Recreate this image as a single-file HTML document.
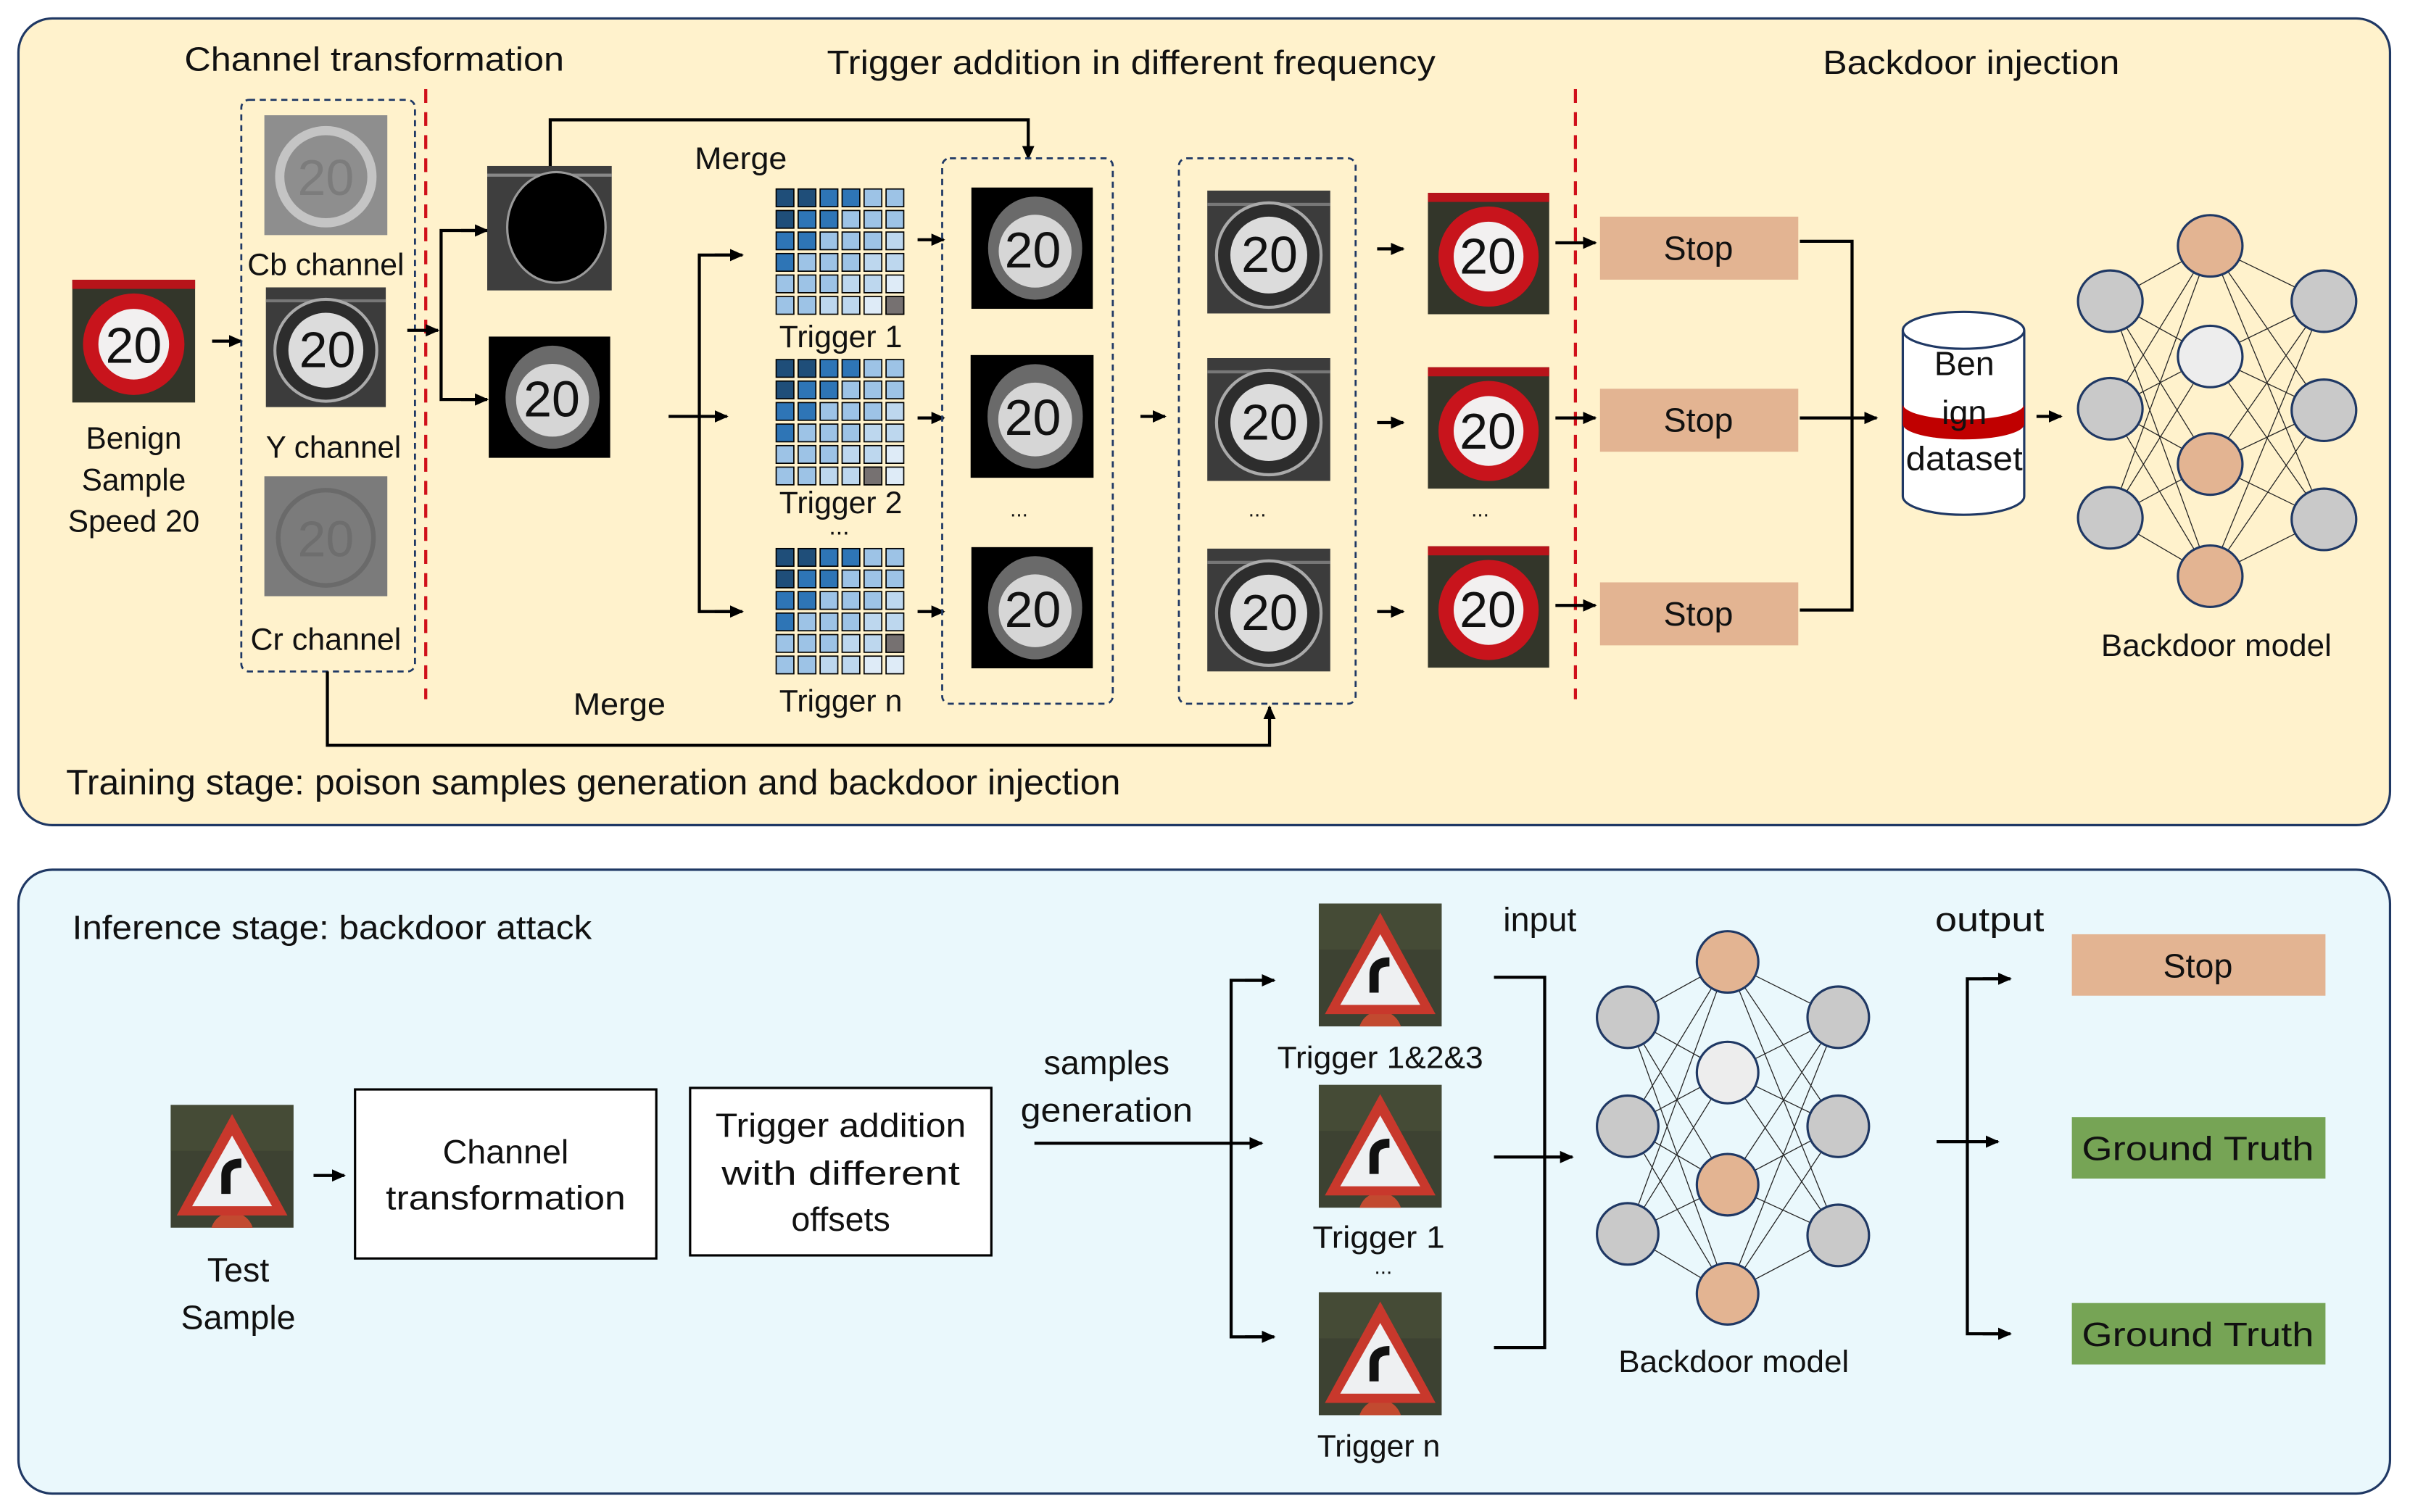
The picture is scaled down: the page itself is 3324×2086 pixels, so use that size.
<!DOCTYPE html>
<html><head><meta charset="utf-8"><style>
html,body{margin:0;padding:0;background:#fff;}
svg{display:block;}
text{font-family:"Liberation Sans",sans-serif;fill:#111;}
.n{font-size:33px;text-anchor:middle;}
</style></head><body>
<svg width="3324" height="2086" viewBox="0 0 1568 984" preserveAspectRatio="none" xmlns="http://www.w3.org/2000/svg">
<defs>
<marker id="ah" markerUnits="userSpaceOnUse" markerWidth="9" markerHeight="9" refX="8" refY="4.5" orient="auto"><path d="M0,0.5 L9,4.5 L0,8.5 Z" fill="#000"/></marker>
<symbol id="red" viewBox="0 0 80 80"><rect width="80" height="80" fill="#33362a"/><rect width="80" height="6" fill="#b8141a"/><circle cx="40" cy="42" r="33" fill="#c8141c"/><circle cx="40" cy="42" r="23" fill="#f2f0f0"/></symbol>
<symbol id="gray" viewBox="0 0 80 80"><rect width="80" height="80" fill="#3c3c3c"/><rect y="8" width="80" height="2" fill="#777"/><circle cx="40" cy="42" r="34" fill="#2d2d2d" stroke="#aaa" stroke-width="2"/><circle cx="40" cy="42" r="25" fill="#dcdcdc"/></symbol>
<symbol id="blk" viewBox="0 0 80 80"><rect width="80" height="80" fill="#000"/><ellipse cx="42" cy="40" rx="31" ry="34" fill="#6a6a6a"/><circle cx="42" cy="42" r="24" fill="#d6d6d6"/></symbol>
<symbol id="tri" viewBox="0 0 80 80"><rect width="80" height="80" fill="#3d4232"/><rect width="80" height="30" fill="#4b5138" opacity=".6"/><circle cx="40" cy="84" r="14" fill="#c24a30"/><polygon points="40,6 76,72 4,72" fill="#c8382c"/><polygon points="40,20 66,66 14,66" fill="#eef0f2"/><path d="M36,58 L36,46 Q36,38 46,38" stroke="#111" stroke-width="6" fill="none"/></symbol>
<symbol id="grid" viewBox="0 0 86 84">
<g stroke="#000" stroke-width="0.8">
<rect x="1" y="1" width="11.5" height="11.5" fill="#1F4E79"/><rect x="15.3" y="1" width="11.5" height="11.5" fill="#1F4E79"/><rect x="29.6" y="1" width="11.5" height="11.5" fill="#2E75B6"/><rect x="43.9" y="1" width="11.5" height="11.5" fill="#2E75B6"/><rect x="58.2" y="1" width="11.5" height="11.5" fill="#9DC3E6"/><rect x="72.5" y="1" width="11.5" height="11.5" fill="#9DC3E6"/>
<rect x="1" y="15" width="11.5" height="11.5" fill="#1F4E79"/><rect x="15.3" y="15" width="11.5" height="11.5" fill="#2E75B6"/><rect x="29.6" y="15" width="11.5" height="11.5" fill="#2E75B6"/><rect x="43.9" y="15" width="11.5" height="11.5" fill="#9DC3E6"/><rect x="58.2" y="15" width="11.5" height="11.5" fill="#9DC3E6"/><rect x="72.5" y="15" width="11.5" height="11.5" fill="#9DC3E6"/>
<rect x="1" y="29" width="11.5" height="11.5" fill="#2E75B6"/><rect x="15.3" y="29" width="11.5" height="11.5" fill="#2E75B6"/><rect x="29.6" y="29" width="11.5" height="11.5" fill="#9DC3E6"/><rect x="43.9" y="29" width="11.5" height="11.5" fill="#9DC3E6"/><rect x="58.2" y="29" width="11.5" height="11.5" fill="#9DC3E6"/><rect x="72.5" y="29" width="11.5" height="11.5" fill="#BDD7EE"/>
<rect x="1" y="43" width="11.5" height="11.5" fill="#2E75B6"/><rect x="15.3" y="43" width="11.5" height="11.5" fill="#9DC3E6"/><rect x="29.6" y="43" width="11.5" height="11.5" fill="#9DC3E6"/><rect x="43.9" y="43" width="11.5" height="11.5" fill="#9DC3E6"/><rect x="58.2" y="43" width="11.5" height="11.5" fill="#BDD7EE"/><rect x="72.5" y="43" width="11.5" height="11.5" fill="#BDD7EE"/>
<rect x="1" y="57" width="11.5" height="11.5" fill="#9DC3E6"/><rect x="15.3" y="57" width="11.5" height="11.5" fill="#9DC3E6"/><rect x="29.6" y="57" width="11.5" height="11.5" fill="#9DC3E6"/><rect x="43.9" y="57" width="11.5" height="11.5" fill="#BDD7EE"/><rect x="58.2" y="57" width="11.5" height="11.5" fill="#BDD7EE"/><rect x="72.5" y="57" width="11.5" height="11.5" fill="#DEEBF7"/>
<rect x="1" y="71" width="11.5" height="11.5" fill="#9DC3E6"/><rect x="15.3" y="71" width="11.5" height="11.5" fill="#9DC3E6"/><rect x="29.6" y="71" width="11.5" height="11.5" fill="#BDD7EE"/><rect x="43.9" y="71" width="11.5" height="11.5" fill="#BDD7EE"/><rect x="58.2" y="71" width="11.5" height="11.5" fill="#DEEBF7"/><rect x="72.5" y="71" width="11.5" height="11.5" fill="#DEEBF7"/>
</g></symbol>
</defs>

<rect x="12" y="12" width="1543" height="525" rx="22" fill="#FFF2CC" stroke="#1F3864" stroke-width="1.5"/>
<rect x="12" y="566" width="1543" height="406" rx="22" fill="#EAF8FC" stroke="#1F3864" stroke-width="1.5"/>

<text x="120" y="46" font-size="22" textLength="247" lengthAdjust="spacingAndGlyphs">Channel transformation</text>
<text x="538" y="48" font-size="22" textLength="396" lengthAdjust="spacingAndGlyphs">Trigger addition in different frequency</text>
<text x="1186" y="48" font-size="22" textLength="193" lengthAdjust="spacingAndGlyphs">Backdoor injection</text>

<use href="#red" x="47" y="182" width="80" height="80"/>
<text x="87" y="236" class="n">20</text>
<g font-size="20" text-anchor="middle"><text x="87" y="292">Benign</text><text x="87" y="319">Sample</text><text x="87" y="346">Speed 20</text></g>
<line x1="138" y1="222" x2="157" y2="222" stroke="#000" stroke-width="2" marker-end="url(#ah)"/>

<rect x="157" y="65" width="113" height="372" rx="5" fill="none" stroke="#1F3864" stroke-width="1.3" stroke-dasharray="4,3"/>
<rect x="172" y="75" width="80" height="78" fill="#8e8e8e"/><circle cx="212" cy="115" r="30" fill="none" stroke="#c4c4c4" stroke-width="6"/>
<text x="212" y="127" class="n" style="fill:#7c7c7c">20</text>
<text x="212" y="179" font-size="20" text-anchor="middle" textLength="102" lengthAdjust="spacingAndGlyphs">Cb channel</text>
<use href="#gray" x="172" y="187" width="80" height="78"/>
<text x="213" y="239" class="n">20</text>
<text x="217" y="298" font-size="20" text-anchor="middle" textLength="88" lengthAdjust="spacingAndGlyphs">Y channel</text>
<rect x="172" y="310" width="80" height="78" fill="#7b7b7b"/><circle cx="212" cy="350" r="31" fill="none" stroke="#6a6a6a" stroke-width="3"/>
<text x="212" y="362" class="n" style="fill:#6e6e6e">20</text>
<text x="212" y="423" font-size="20" text-anchor="middle" textLength="98" lengthAdjust="spacingAndGlyphs">Cr channel</text>

<line x1="277" y1="58" x2="277" y2="455" stroke="#d0101a" stroke-width="2" stroke-dasharray="9,6"/>
<line x1="265" y1="215" x2="285" y2="215" stroke="#000" stroke-width="2" marker-end="url(#ah)"/>
<path d="M316,150 H287 V260 H316" fill="none" stroke="#000" stroke-width="2"/>
<line x1="300" y1="150" x2="317" y2="150" stroke="#000" stroke-width="2" marker-end="url(#ah)"/>
<line x1="300" y1="260" x2="317" y2="260" stroke="#000" stroke-width="2" marker-end="url(#ah)"/>

<rect x="317" y="108" width="81" height="81" fill="#3e3e3e"/><rect x="317" y="113" width="81" height="2" fill="#888"/>
<ellipse cx="362" cy="148" rx="32" ry="36" fill="#000" stroke="#999" stroke-width="1.5"/>
<use href="#blk" x="317" y="219" width="81" height="79"/>
<text x="359" y="271" class="n">20</text>

<path d="M358,108 V78 H669 V103" fill="none" stroke="#000" stroke-width="2" marker-end="url(#ah)"/>
<text x="452" y="110" font-size="20" textLength="60" lengthAdjust="spacingAndGlyphs">Merge</text>

<line x1="435" y1="271" x2="473" y2="271" stroke="#000" stroke-width="2" marker-end="url(#ah)"/>
<path d="M482,166 H455 V398 H482" fill="none" stroke="#000" stroke-width="2"/>
<line x1="465" y1="166" x2="483" y2="166" stroke="#000" stroke-width="2" marker-end="url(#ah)"/>
<line x1="465" y1="398" x2="483" y2="398" stroke="#000" stroke-width="2" marker-end="url(#ah)"/>

<use href="#grid" x="504" y="122" width="86" height="84"/><rect x="576.5" y="193" width="11.5" height="11.5" fill="#767171" stroke="#000" stroke-width=".8"/>
<text x="547" y="226" font-size="20" text-anchor="middle" textLength="80" lengthAdjust="spacingAndGlyphs">Trigger 1</text>
<use href="#grid" x="504" y="233" width="86" height="84"/><rect x="562.2" y="304" width="11.5" height="11.5" fill="#767171" stroke="#000" stroke-width=".8"/>
<text x="547" y="334" font-size="20" text-anchor="middle" textLength="80" lengthAdjust="spacingAndGlyphs">Trigger 2</text>
<text x="546" y="348" font-size="16" text-anchor="middle">...</text>
<use href="#grid" x="504" y="356" width="86" height="84"/><rect x="576.5" y="413" width="11.5" height="11.5" fill="#767171" stroke="#000" stroke-width=".8"/>
<text x="547" y="463" font-size="20" text-anchor="middle" textLength="80" lengthAdjust="spacingAndGlyphs">Trigger n</text>

<g stroke="#000" stroke-width="2">
<line x1="597" y1="156" x2="614" y2="156" marker-end="url(#ah)"/>
<line x1="597" y1="272" x2="614" y2="272" marker-end="url(#ah)"/>
<line x1="597" y1="398" x2="614" y2="398" marker-end="url(#ah)"/>
</g>

<rect x="613" y="103" width="111" height="355" rx="5" fill="none" stroke="#1F3864" stroke-width="1.3" stroke-dasharray="4,3"/>
<use href="#blk" x="631" y="122" width="81" height="79"/><text x="672" y="174" class="n">20</text>
<use href="#blk" x="631" y="231" width="81" height="80"/><text x="672" y="283" class="n">20</text>
<use href="#blk" x="631" y="356" width="81" height="79"/><text x="672" y="408" class="n">20</text>
<text x="663" y="336" font-size="14" text-anchor="middle">...</text>

<line x1="742" y1="271" x2="758" y2="271" stroke="#000" stroke-width="2" marker-end="url(#ah)"/>

<rect x="767" y="103" width="115" height="355" rx="5" fill="none" stroke="#1F3864" stroke-width="1.3" stroke-dasharray="4,3"/>
<use href="#gray" x="785" y="124" width="81" height="80"/><text x="826" y="177" class="n">20</text>
<use href="#gray" x="785" y="233" width="81" height="80"/><text x="826" y="286" class="n">20</text>
<use href="#gray" x="785" y="357" width="81" height="80"/><text x="826" y="410" class="n">20</text>
<text x="818" y="336" font-size="14" text-anchor="middle">...</text>

<g stroke="#000" stroke-width="2">
<line x1="896" y1="162" x2="913" y2="162" marker-end="url(#ah)"/>
<line x1="896" y1="275" x2="913" y2="275" marker-end="url(#ah)"/>
<line x1="896" y1="398" x2="913" y2="398" marker-end="url(#ah)"/>
</g>
<use href="#red" x="929" y="125" width="79" height="80"/><text x="968" y="178" class="n">20</text>
<use href="#red" x="929" y="238" width="79" height="81"/><text x="968" y="292" class="n">20</text>
<use href="#red" x="929" y="355" width="79" height="80"/><text x="968" y="408" class="n">20</text>
<text x="963" y="336" font-size="14" text-anchor="middle">...</text>

<line x1="1025" y1="58" x2="1025" y2="455" stroke="#d0101a" stroke-width="2" stroke-dasharray="9,6"/>
<g stroke="#000" stroke-width="2">
<line x1="1012" y1="158" x2="1038" y2="158" marker-end="url(#ah)"/>
<line x1="1012" y1="272" x2="1038" y2="272" marker-end="url(#ah)"/>
<line x1="1012" y1="394" x2="1038" y2="394" marker-end="url(#ah)"/>
</g>
<rect x="1041" y="141" width="129" height="41" fill="#E3B492"/><text x="1105" y="169" font-size="22" text-anchor="middle">Stop</text>
<rect x="1041" y="253" width="129" height="41" fill="#E3B492"/><text x="1105" y="281" font-size="22" text-anchor="middle">Stop</text>
<rect x="1041" y="379" width="129" height="41" fill="#E3B492"/><text x="1105" y="407" font-size="22" text-anchor="middle">Stop</text>
<path d="M1171,157 H1205 V397 H1171" fill="none" stroke="#000" stroke-width="2"/>
<line x1="1171" y1="272" x2="1221" y2="272" stroke="#000" stroke-width="2" marker-end="url(#ah)"/>

<path d="M1238,215 V323 A39.5,12 0 0 0 1317,323 V215" fill="#fff" stroke="#1F3864" stroke-width="1.5"/>
<path d="M1238,263 A39.5,10 0 0 0 1317,263 V276 A39.5,10 0 0 1 1238,276 Z" fill="#c00000"/>
<ellipse cx="1277.5" cy="215" rx="39.5" ry="12" fill="#fff" stroke="#1F3864" stroke-width="1.5"/>
<g font-size="22" text-anchor="middle"><text x="1278" y="244">Ben</text><text x="1278" y="276">ign</text><text x="1278" y="306" textLength="76" lengthAdjust="spacingAndGlyphs">dataset</text></g>
<line x1="1325" y1="271" x2="1341" y2="271" stroke="#000" stroke-width="2" marker-end="url(#ah)"/>

<path stroke="#222" stroke-width="0.6" fill="none" d="
M1373,196L1438,160M1373,196L1438,232M1373,196L1438,302M1373,196L1438,375
M1373,266L1438,160M1373,266L1438,232M1373,266L1438,302M1373,266L1438,375
M1373,337L1438,160M1373,337L1438,232M1373,337L1438,302M1373,337L1438,375
M1512,196L1438,160M1512,196L1438,232M1512,196L1438,302M1512,196L1438,375
M1512,267L1438,160M1512,267L1438,232M1512,267L1438,302M1512,267L1438,375
M1512,338L1438,160M1512,338L1438,232M1512,338L1438,302M1512,338L1438,375"/>
<g stroke="#1F3864" stroke-width="1.5">
<ellipse cx="1373" cy="196" rx="21" ry="20" fill="#C9C9C9"/><ellipse cx="1373" cy="266" rx="21" ry="20" fill="#C9C9C9"/><ellipse cx="1373" cy="337" rx="21" ry="20" fill="#C9C9C9"/>
<ellipse cx="1438" cy="160" rx="21" ry="20" fill="#E3B492"/><ellipse cx="1438" cy="232" rx="21" ry="20" fill="#EDEDED"/><ellipse cx="1438" cy="302" rx="21" ry="20" fill="#E3B492"/><ellipse cx="1438" cy="375" rx="21" ry="20" fill="#E3B492"/>
<ellipse cx="1512" cy="196" rx="21" ry="20" fill="#C9C9C9"/><ellipse cx="1512" cy="267" rx="21" ry="20" fill="#C9C9C9"/><ellipse cx="1512" cy="338" rx="21" ry="20" fill="#C9C9C9"/>
</g>
<text x="1442" y="427" font-size="20" text-anchor="middle" textLength="150" lengthAdjust="spacingAndGlyphs">Backdoor model</text>

<path d="M213,437 V485 H826 V460" fill="none" stroke="#000" stroke-width="2" marker-end="url(#ah)"/>
<text x="373" y="465" font-size="20" textLength="60" lengthAdjust="spacingAndGlyphs">Merge</text>
<text x="43" y="517" font-size="23" textLength="686" lengthAdjust="spacingAndGlyphs">Training stage:  poison samples generation and backdoor injection</text>

<text x="47" y="611" font-size="22" textLength="338" lengthAdjust="spacingAndGlyphs">Inference stage: backdoor attack</text>
<use href="#tri" x="111" y="719" width="80" height="80"/>
<g font-size="22" text-anchor="middle"><text x="155" y="834">Test</text><text x="155" y="865">Sample</text></g>
<line x1="204" y1="765" x2="224" y2="765" stroke="#000" stroke-width="2" marker-end="url(#ah)"/>
<rect x="231" y="709" width="196" height="110" fill="#fff" stroke="#000" stroke-width="1.5"/>
<g font-size="22" text-anchor="middle"><text x="329" y="757">Channel</text><text x="329" y="787" textLength="156" lengthAdjust="spacingAndGlyphs">transformation</text></g>
<rect x="449" y="708" width="196" height="109" fill="#fff" stroke="#000" stroke-width="1.5"/>
<g font-size="22" text-anchor="middle"><text x="547" y="740" textLength="163" lengthAdjust="spacingAndGlyphs">Trigger addition</text><text x="547" y="771" textLength="155" lengthAdjust="spacingAndGlyphs">with different</text><text x="547" y="801">offsets</text></g>
<g font-size="22" text-anchor="middle"><text x="720" y="699">samples</text><text x="720" y="730" textLength="112" lengthAdjust="spacingAndGlyphs">generation</text></g>
<line x1="673" y1="744" x2="821" y2="744" stroke="#000" stroke-width="2" marker-end="url(#ah)"/>
<path d="M828,638 H801 V870 H828" fill="none" stroke="#000" stroke-width="2"/>
<line x1="810" y1="638" x2="829" y2="638" stroke="#000" stroke-width="2" marker-end="url(#ah)"/>
<line x1="810" y1="870" x2="829" y2="870" stroke="#000" stroke-width="2" marker-end="url(#ah)"/>

<use href="#tri" x="858" y="588" width="80" height="80"/>
<use href="#tri" x="858" y="706" width="80" height="80"/>
<use href="#tri" x="858" y="841" width="80" height="80"/>
<g font-size="20" text-anchor="middle"><text x="898" y="695" textLength="134" lengthAdjust="spacingAndGlyphs">Trigger 1&amp;2&amp;3</text><text x="897" y="812" textLength="86" lengthAdjust="spacingAndGlyphs">Trigger  1</text><text x="900" y="829" font-size="14">...</text><text x="897" y="948" textLength="80" lengthAdjust="spacingAndGlyphs">Trigger n</text></g>

<text x="978" y="606" font-size="22">input</text>
<path d="M972,636 H1005 V877 H972" fill="none" stroke="#000" stroke-width="2"/>
<line x1="972" y1="753" x2="1023" y2="753" stroke="#000" stroke-width="2" marker-end="url(#ah)"/>

<path stroke="#222" stroke-width="0.6" fill="none" d="
M1059,662L1124,626M1059,662L1124,698M1059,662L1124,771M1059,662L1124,842
M1059,733L1124,626M1059,733L1124,698M1059,733L1124,771M1059,733L1124,842
M1059,803L1124,626M1059,803L1124,698M1059,803L1124,771M1059,803L1124,842
M1196,662L1124,626M1196,662L1124,698M1196,662L1124,771M1196,662L1124,842
M1196,733L1124,626M1196,733L1124,698M1196,733L1124,771M1196,733L1124,842
M1196,804L1124,626M1196,804L1124,698M1196,804L1124,771M1196,804L1124,842"/>
<g stroke="#1F3864" stroke-width="1.5">
<ellipse cx="1059" cy="662" rx="20" ry="20" fill="#C9C9C9"/><ellipse cx="1059" cy="733" rx="20" ry="20" fill="#C9C9C9"/><ellipse cx="1059" cy="803" rx="20" ry="20" fill="#C9C9C9"/>
<ellipse cx="1124" cy="626" rx="20" ry="20" fill="#E3B492"/><ellipse cx="1124" cy="698" rx="20" ry="20" fill="#EDEDED"/><ellipse cx="1124" cy="771" rx="20" ry="20" fill="#E3B492"/><ellipse cx="1124" cy="842" rx="20" ry="20" fill="#E3B492"/>
<ellipse cx="1196" cy="662" rx="20" ry="20" fill="#C9C9C9"/><ellipse cx="1196" cy="733" rx="20" ry="20" fill="#C9C9C9"/><ellipse cx="1196" cy="804" rx="20" ry="20" fill="#C9C9C9"/>
</g>
<text x="1128" y="893" font-size="20" text-anchor="middle" textLength="150" lengthAdjust="spacingAndGlyphs">Backdoor model</text>

<text x="1259" y="606" font-size="22" textLength="71" lengthAdjust="spacingAndGlyphs">output</text>
<path d="M1307,637 H1280 V868 H1307" fill="none" stroke="#000" stroke-width="2"/>
<line x1="1290" y1="637" x2="1308" y2="637" stroke="#000" stroke-width="2" marker-end="url(#ah)"/>
<line x1="1290" y1="868" x2="1308" y2="868" stroke="#000" stroke-width="2" marker-end="url(#ah)"/>
<line x1="1260" y1="743" x2="1300" y2="743" stroke="#000" stroke-width="2" marker-end="url(#ah)"/>

<rect x="1348" y="608" width="165" height="40" fill="#E3B492"/><text x="1430" y="636" font-size="22" text-anchor="middle">Stop</text>
<rect x="1348" y="727" width="165" height="40" fill="#76A455"/><text x="1430" y="755" font-size="22" text-anchor="middle" textLength="151" lengthAdjust="spacingAndGlyphs">Ground Truth</text>
<rect x="1348" y="848" width="165" height="40" fill="#76A455"/><text x="1430" y="876" font-size="22" text-anchor="middle" textLength="151" lengthAdjust="spacingAndGlyphs">Ground Truth</text>
</svg>
</body></html>
